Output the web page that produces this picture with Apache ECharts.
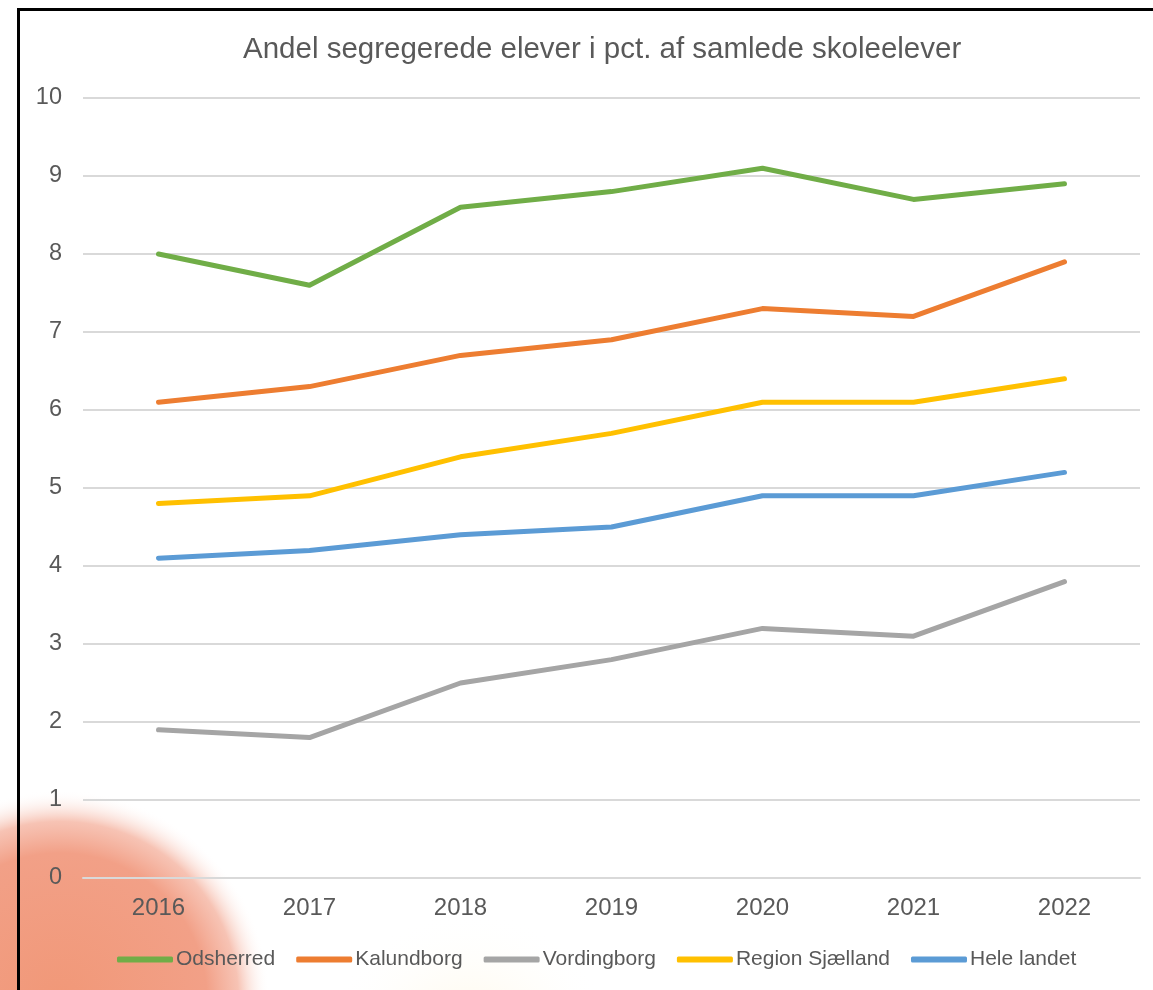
<!DOCTYPE html>
<html>
<head>
<meta charset="utf-8">
<style>
  html, body { margin: 0; padding: 0; background: #fff; }
  #chart { width: 1153px; height: 990px; }
</style>
<script src="https://cdn.jsdelivr.net/npm/echarts@6/dist/echarts.min.js"></script>
</head>
<body>
<div id="chart"></div>
<script>
var years = ['2016', '2017', '2018', '2019', '2020', '2021', '2022'];
var odsherred = [8.0, 7.6, 8.6, 8.8, 9.1, 8.7, 8.9];
var kalundborg = [6.1, 6.3, 6.7, 6.9, 7.3, 7.2, 7.9];
var vordingborg = [1.9, 1.8, 2.5, 2.8, 3.2, 3.1, 3.8];
var regionSjaelland = [4.8, 4.9, 5.4, 5.7, 6.1, 6.1, 6.4];
var heleLandet = [4.1, 4.2, 4.4, 4.5, 4.9, 4.9, 5.2];

var font = '"Liberation Sans", Arial, sans-serif';
var textColor = '#595959';

function line(name, data, color) {
  return {
    name: name,
    type: 'line',
    data: data,
    symbol: 'none',
    lineStyle: { color: color, width: 5, cap: 'round', join: 'round' },
    itemStyle: { color: color },
    z: 3
  };
}

var chart = echarts.init(document.getElementById('chart'), null, { renderer: 'canvas' });
chart.setOption({
  animation: false,
  backgroundColor: '#fff',
  textStyle: { fontFamily: font },
  graphic: [
    // decorative blobs behind the chart
    {
      type: 'circle',
      silent: true,
      z: -10,
      shape: { cx: 60, cy: 1000, r: 210 },
      style: {
        fill: {
          type: 'radial', x: 0.5, y: 0.5, r: 0.5,
          colorStops: [
            { offset: 0, color: 'rgba(241,152,120,1)' },
            { offset: 0.7, color: 'rgba(242,160,135,1)' },
            { offset: 0.85, color: 'rgba(244,175,155,0.75)' },
            { offset: 1, color: 'rgba(255,255,255,0)' }
          ]
        }
      }
    },
    {
      type: 'circle',
      silent: true,
      z: -10,
      shape: { cx: 470, cy: 1060, r: 150 },
      style: {
        fill: {
          type: 'radial', x: 0.5, y: 0.5, r: 0.5,
          colorStops: [
            { offset: 0, color: 'rgba(255,225,150,0.35)' },
            { offset: 1, color: 'rgba(255,255,255,0)' }
          ]
        }
      }
    },
    // frame
    {
      type: 'rect',
      silent: true,
      z: 100,
      shape: { x: 18.5, y: 9.5, width: 1200, height: 1100 },
      style: { fill: 'none', stroke: '#000', lineWidth: 3 }
    }
  ],
  title: {
    text: 'Andel segregerede elever i pct. af samlede skoleelever',
    left: 238,
    top: 30,
    textStyle: { color: textColor, fontSize: 29.5, fontWeight: 'normal', fontFamily: font }
  },
  legend: {
    bottom: 15,
    left: 112,
    icon: 'roundRect',
    itemWidth: 56,
    itemHeight: 6,
    itemGap: 21,
    textStyle: { color: textColor, fontSize: 21, fontFamily: font, padding: [0, 0, 0, -2] },
    data: ['Odsherred', 'Kalundborg', 'Vordingborg', 'Region Sjælland', 'Hele landet']
  },
  grid: { left: 83, right: 13, top: 98, bottom: 112, containLabel: false },
  xAxis: {
    type: 'category',
    data: years,
    boundaryGap: true,
    axisLine: { show: true, lineStyle: { color: '#d9d9d9', width: 2 } },
    axisTick: { show: false },
    axisLabel: { color: textColor, fontSize: 24, margin: 18, fontFamily: font }
  },
  yAxis: {
    type: 'value',
    min: 0,
    max: 10,
    interval: 1,
    axisLine: { show: false },
    axisTick: { show: false },
    axisLabel: { color: textColor, fontSize: 23.5, margin: 21, fontFamily: font },
    splitLine: { lineStyle: { color: '#d9d9d9', width: 2 } }
  },
  series: [
    line('Odsherred', odsherred, '#70AD47'),
    line('Kalundborg', kalundborg, '#ED7D31'),
    line('Vordingborg', vordingborg, '#A5A5A5'),
    line('Region Sjælland', regionSjaelland, '#FFC000'),
    line('Hele landet', heleLandet, '#5B9BD5')
  ]
});
window.addEventListener('resize', function() { chart.resize(); });
</script>
</body>
</html>
